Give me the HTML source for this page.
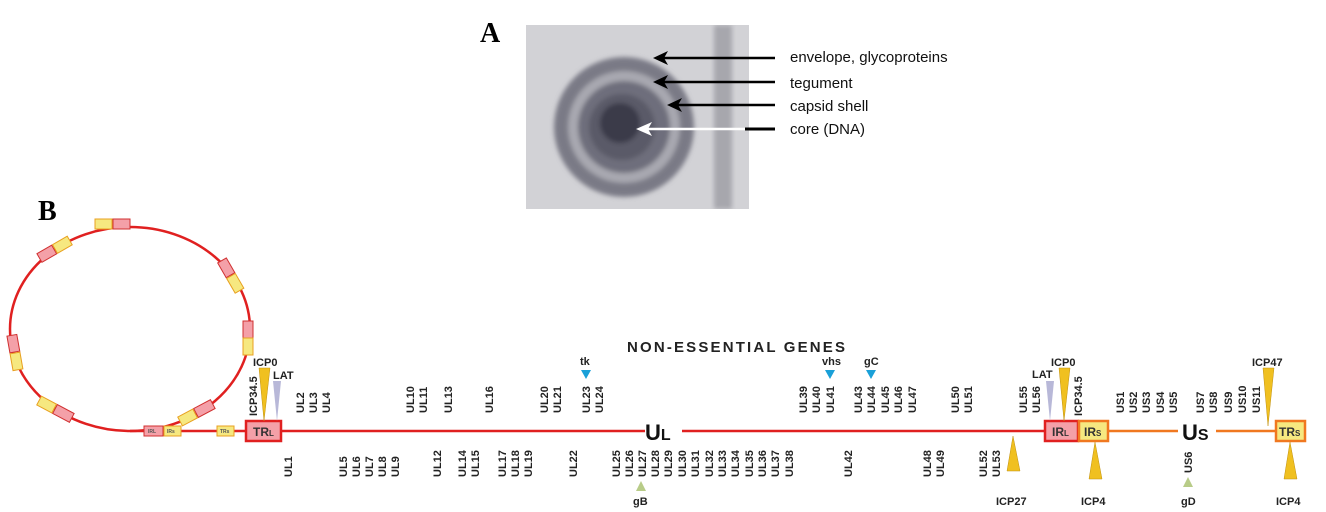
<!DOCTYPE html>
<html><head><meta charset="utf-8"><style>
html,body{margin:0;padding:0;background:#fff;}
svg{display:block;}
.g{font-family:"Liberation Sans",sans-serif;font-weight:bold;font-size:11px;fill:#222;}
.lb{font-family:"Liberation Sans",sans-serif;font-weight:bold;font-size:11px;fill:#222;}
.sm{font-family:"Liberation Sans",sans-serif;font-weight:bold;font-size:5px;fill:#555;}
</style></head><body>
<svg width="1326" height="512" viewBox="0 0 1326 512" xmlns="http://www.w3.org/2000/svg">
<defs>
<filter id="bl" x="-20%" y="-20%" width="140%" height="140%"><feGaussianBlur stdDeviation="2.5"/></filter>
<clipPath id="cp"><rect x="526" y="25" width="223" height="184"/></clipPath>
</defs>
<!-- Panel A -->
<text x="480" y="42" font-family="Liberation Serif" font-weight="bold" font-size="28">A</text>
<g clip-path="url(#cp)">
<rect x="526" y="25" width="223" height="184" fill="#d2d2d6"/>
<g filter="url(#bl)">
<rect x="714" y="25" width="18" height="184" fill="#8a8a92" opacity="0.6"/>
<circle cx="624" cy="127" r="70" fill="#7a7a86"/>
<circle cx="624" cy="127" r="56" fill="#a8a8b0"/>
<circle cx="624" cy="127" r="46" fill="#6e6e7c"/>
<circle cx="622" cy="127" r="33" fill="#5a5a68"/>
<circle cx="620" cy="123" r="20" fill="#3a3a48"/>
</g>
</g>
<g stroke="#000" stroke-width="2.5">
<line x1="660" y1="58" x2="775" y2="58"/>
<line x1="660" y1="82" x2="775" y2="82"/>
<line x1="674" y1="105" x2="775" y2="105"/>
<line x1="745" y1="129" x2="775" y2="129" stroke-width="3"/>
</g>
<line x1="645" y1="129" x2="745" y2="129" stroke="#fff" stroke-width="2.5"/>
<polygon points="653,58 668,51 664,58 668,65" fill="#000"/>
<polygon points="653,82 668,75 664,82 668,89" fill="#000"/>
<polygon points="667,105 682,98 678,105 682,112" fill="#000"/>
<polygon points="636,129 652,122 648,129 652,136" fill="#fff"/>
<g font-family="Liberation Sans" font-size="15" fill="#111">
<text x="790" y="62">envelope, glycoproteins</text>
<text x="790" y="88">tegument</text>
<text x="790" y="111">capsid shell</text>
<text x="790" y="134">core (DNA)</text>
</g>
<!-- Panel B -->
<text x="38" y="220" font-family="Liberation Serif" font-weight="bold" font-size="28">B</text>
<ellipse cx="130" cy="329" rx="120" ry="102" fill="none" stroke="#e02020" stroke-width="2.5"/>
<line x1="130" y1="431" x2="246" y2="431" stroke="#e02020" stroke-width="2.5"/>
<line x1="281" y1="431" x2="645" y2="431" stroke="#e02020" stroke-width="2.5"/>
<line x1="682" y1="431" x2="1045" y2="431" stroke="#e02020" stroke-width="2.5"/>
<line x1="1108" y1="431" x2="1178" y2="431" stroke="#f07820" stroke-width="2.5"/>
<line x1="1216" y1="431" x2="1276" y2="431" stroke="#f07820" stroke-width="2.5"/>
<g stroke="#e8a020" stroke-width="1">
<g transform="translate(122,224)"><rect x="-9" y="-5" width="17" height="10" fill="#f4a0a8" stroke="#d03030"/><rect x="-27" y="-5" width="17" height="10" fill="#f6e880"/></g>
<g transform="translate(55,249) rotate(-30)"><rect x="-18" y="-5" width="17" height="10" fill="#f4a0a8" stroke="#d03030"/><rect x="0" y="-5" width="17" height="10" fill="#f6e880"/></g>
<g transform="translate(231,276) rotate(60)"><rect x="-18" y="-5" width="17" height="10" fill="#f4a0a8" stroke="#d03030"/><rect x="0" y="-5" width="17" height="10" fill="#f6e880"/></g>
<g transform="translate(248,338) rotate(-90)"><rect x="0" y="-5" width="17" height="10" fill="#f4a0a8" stroke="#d03030"/><rect x="-17" y="-5" width="17" height="10" fill="#f6e880"/></g>
<g transform="translate(15,353) rotate(80)"><rect x="-18" y="-5" width="17" height="10" fill="#f4a0a8" stroke="#d03030"/><rect x="0" y="-5" width="17" height="10" fill="#f6e880"/></g>
<g transform="translate(55,409) rotate(28)"><rect x="0" y="-5" width="19" height="10" fill="#f4a0a8" stroke="#d03030"/><rect x="-18" y="-5" width="17" height="10" fill="#f6e880"/></g>
<g transform="translate(196,413) rotate(-28)"><rect x="0" y="-5" width="19" height="10" fill="#f4a0a8" stroke="#d03030"/><rect x="-18" y="-5" width="17" height="10" fill="#f6e880"/></g>
<rect x="144" y="426" width="19" height="10" fill="#f4a0a8" stroke="#d03030"/>
<rect x="164" y="426" width="17" height="10" fill="#f6e880"/>
<rect x="217" y="426" width="17" height="10" fill="#f6e880"/>
</g>
<g class="sm">
<text x="148" y="433">IRL</text><text x="167" y="433">IRs</text><text x="220" y="433">TRs</text>
</g>
<rect x="246" y="421" width="35" height="20" fill="#f4a0a8" stroke="#e02020" stroke-width="2.5"/>
<text x="253" y="436" font-family="Liberation Sans" font-size="12" font-weight="bold" fill="#333">TR<tspan font-size="8">L</tspan></text>
<rect x="1045" y="421" width="33" height="20" fill="#f4a0a8" stroke="#e02020" stroke-width="2.5"/>
<text x="1052" y="436" font-family="Liberation Sans" font-size="12" font-weight="bold" fill="#333">IR<tspan font-size="8">L</tspan></text>
<rect x="1079" y="421" width="29" height="20" fill="#f6e880" stroke="#f07820" stroke-width="2.5"/>
<text x="1084" y="436" font-family="Liberation Sans" font-size="12" font-weight="bold" fill="#333">IR<tspan font-size="8">S</tspan></text>
<rect x="1276" y="421" width="29" height="20" fill="#f6e880" stroke="#f07820" stroke-width="2.5"/>
<text x="1279" y="436" font-family="Liberation Sans" font-size="12" font-weight="bold" fill="#333">TR<tspan font-size="8">S</tspan></text>
<text x="645" y="440" font-family="Liberation Sans" font-size="22" font-weight="bold" fill="#111">U<tspan font-size="16">L</tspan></text>
<text x="1182" y="440" font-family="Liberation Sans" font-size="22" font-weight="bold" fill="#111">U<tspan font-size="16">S</tspan></text>
<text x="627" y="352" font-family="Liberation Sans" font-size="15" font-weight="bold" fill="#222" textLength="218">NON-ESSENTIAL GENES</text>
<polygon points="259,368 270,368 264,421" fill="#f0c020" stroke="#c09010" stroke-width="0.5"/>
<polygon points="273,381 281,381 277,421" fill="#b8b8d8"/>
<polygon points="1046,381 1054,381 1050,421" fill="#b8b8d8"/>
<polygon points="1059,368 1070,368 1064,421" fill="#f0c020" stroke="#c09010" stroke-width="0.5"/>
<polygon points="1263,368 1274,368 1268,426" fill="#f0c020" stroke="#c09010" stroke-width="0.5"/>
<polygon points="1013,436 1007,471 1020,471" fill="#f0c020" stroke="#c09010" stroke-width="0.5"/>
<polygon points="1095,442 1089,479 1102,479" fill="#f0c020" stroke="#c09010" stroke-width="0.5"/>
<polygon points="1290,442 1284,479 1297,479" fill="#f0c020" stroke="#c09010" stroke-width="0.5"/>
<polygon points="641,481 636,491 646,491" fill="#b8cc88"/>
<polygon points="1188,477 1183,487 1193,487" fill="#b8cc88"/>
<polygon points="581,370 591,370 586,379" fill="#1aa0d8"/>
<polygon points="825,370 835,370 830,379" fill="#1aa0d8"/>
<polygon points="866,370 876,370 871,379" fill="#1aa0d8"/>
<g class="lb">
<text x="253" y="366">ICP0</text><text x="273" y="379">LAT</text>
<text x="1051" y="366">ICP0</text><text x="1032" y="378">LAT</text>
<text x="1252" y="366">ICP47</text>
<text x="580" y="365">tk</text><text x="822" y="365">vhs</text><text x="864" y="365">gC</text>
<text x="996" y="505">ICP27</text><text x="1081" y="505">ICP4</text><text x="1276" y="505">ICP4</text>
<text x="633" y="505">gB</text><text x="1181" y="505">gD</text>
</g>
<g class="g">
<g transform="translate(257,416) rotate(-90)"><text>ICP34.5</text></g>
<g transform="translate(1082,416) rotate(-90)"><text>ICP34.5</text></g>
<g transform="translate(1192,473) rotate(-90)"><text>US6</text></g>
</g>
<g class="g">
<text transform="translate(304,413) rotate(-90)">UL2</text>
<text transform="translate(317,413) rotate(-90)">UL3</text>
<text transform="translate(330,413) rotate(-90)">UL4</text>
<text transform="translate(414,413) rotate(-90)">UL10</text>
<text transform="translate(427,413) rotate(-90)">UL11</text>
<text transform="translate(452,413) rotate(-90)">UL13</text>
<text transform="translate(493,413) rotate(-90)">UL16</text>
<text transform="translate(548,413) rotate(-90)">UL20</text>
<text transform="translate(561,413) rotate(-90)">UL21</text>
<text transform="translate(590,413) rotate(-90)">UL23</text>
<text transform="translate(603,413) rotate(-90)">UL24</text>
<text transform="translate(807,413) rotate(-90)">UL39</text>
<text transform="translate(820,413) rotate(-90)">UL40</text>
<text transform="translate(834,413) rotate(-90)">UL41</text>
<text transform="translate(862,413) rotate(-90)">UL43</text>
<text transform="translate(875,413) rotate(-90)">UL44</text>
<text transform="translate(889,413) rotate(-90)">UL45</text>
<text transform="translate(902,413) rotate(-90)">UL46</text>
<text transform="translate(916,413) rotate(-90)">UL47</text>
<text transform="translate(959,413) rotate(-90)">UL50</text>
<text transform="translate(972,413) rotate(-90)">UL51</text>
<text transform="translate(1027,413) rotate(-90)">UL55</text>
<text transform="translate(1040,413) rotate(-90)">UL56</text>
<text transform="translate(1124,413) rotate(-90)">US1</text>
<text transform="translate(1137,413) rotate(-90)">US2</text>
<text transform="translate(1150,413) rotate(-90)">US3</text>
<text transform="translate(1164,413) rotate(-90)">US4</text>
<text transform="translate(1177,413) rotate(-90)">US5</text>
<text transform="translate(1204,413) rotate(-90)">US7</text>
<text transform="translate(1217,413) rotate(-90)">US8</text>
<text transform="translate(1232,413) rotate(-90)">US9</text>
<text transform="translate(1246,413) rotate(-90)">US10</text>
<text transform="translate(1260,413) rotate(-90)">US11</text>
</g>
<g class="g">
<text transform="translate(292,477) rotate(-90)">UL1</text>
<text transform="translate(347,477) rotate(-90)">UL5</text>
<text transform="translate(360,477) rotate(-90)">UL6</text>
<text transform="translate(373,477) rotate(-90)">UL7</text>
<text transform="translate(386,477) rotate(-90)">UL8</text>
<text transform="translate(399,477) rotate(-90)">UL9</text>
<text transform="translate(441,477) rotate(-90)">UL12</text>
<text transform="translate(466,477) rotate(-90)">UL14</text>
<text transform="translate(479,477) rotate(-90)">UL15</text>
<text transform="translate(506,477) rotate(-90)">UL17</text>
<text transform="translate(519,477) rotate(-90)">UL18</text>
<text transform="translate(532,477) rotate(-90)">UL19</text>
<text transform="translate(577,477) rotate(-90)">UL22</text>
<text transform="translate(620,477) rotate(-90)">UL25</text>
<text transform="translate(633,477) rotate(-90)">UL26</text>
<text transform="translate(646,477) rotate(-90)">UL27</text>
<text transform="translate(659,477) rotate(-90)">UL28</text>
<text transform="translate(672,477) rotate(-90)">UL29</text>
<text transform="translate(686,477) rotate(-90)">UL30</text>
<text transform="translate(699,477) rotate(-90)">UL31</text>
<text transform="translate(713,477) rotate(-90)">UL32</text>
<text transform="translate(726,477) rotate(-90)">UL33</text>
<text transform="translate(739,477) rotate(-90)">UL34</text>
<text transform="translate(753,477) rotate(-90)">UL35</text>
<text transform="translate(766,477) rotate(-90)">UL36</text>
<text transform="translate(779,477) rotate(-90)">UL37</text>
<text transform="translate(793,477) rotate(-90)">UL38</text>
<text transform="translate(852,477) rotate(-90)">UL42</text>
<text transform="translate(931,477) rotate(-90)">UL48</text>
<text transform="translate(944,477) rotate(-90)">UL49</text>
<text transform="translate(987,477) rotate(-90)">UL52</text>
<text transform="translate(1000,477) rotate(-90)">UL53</text>
</g>
</svg>
</body></html>
